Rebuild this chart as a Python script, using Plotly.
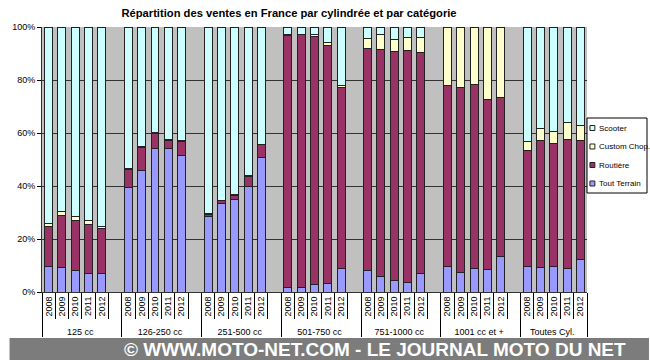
import plotly.graph_objects as go

groups = ["125 cc", "126-250 cc", "251-500 cc", "501-750 cc", "751-1000 cc", "1001 cc et +", "Toutes Cyl."]
years = ["2008", "2009", "2010", "2011", "2012"]
y_ticks = [0, 20, 40, 60, 80, 100]
y_tick_labels = ["0%", "20%", "40%", "60%", "80%", "100%"]

tout_terrain = [9.5, 9.2, 8.3, 6.8, 6.8,
                39.6, 46.0, 54.0, 54.0, 51.5,
                28.6, 33.4, 34.9, 39.7, 50.6,
                1.6, 1.6, 2.9, 3.1, 9.0,
                8.0, 5.9, 4.4, 3.4, 6.9,
                9.5, 7.3, 8.8, 8.4, 13.3,
                9.5, 9.2, 9.5, 9.0, 12.3]
routiere = [15.1, 19.7, 18.7, 18.8, 17.2,
            6.8, 8.6, 5.8, 3.2, 5.4,
            0.7, 1.1, 1.7, 4.0, 4.9,
            95.3, 95.5, 93.6, 90.0, 68.1,
            84.0, 85.8, 86.2, 87.6, 83.4,
            68.6, 69.7, 69.5, 64.1, 60.2,
            43.9, 48.1, 46.5, 48.5, 44.9]
custom = [1.2, 1.6, 1.4, 1.3, 0.9,
          0.3, 0.4, 0.5, 0.3, 0.4,
          0.2, 0.2, 0.2, 0.3, 0.2,
          0.1, 0.2, 0.5, 1.1, 0.9,
          3.6, 5.3, 4.5, 5.1, 5.9,
          21.9, 23.0, 21.7, 27.5, 26.5,
          3.4, 4.3, 4.4, 6.4, 5.7]
scooter = [74.2, 69.5, 71.6, 73.1, 75.1,
           53.3, 45.0, 39.7, 42.5, 42.7,
           70.5, 65.3, 63.2, 56.0, 44.3,
           3.0, 2.7, 3.0, 5.8, 22.0,
           4.4, 3.0, 4.9, 3.9, 3.8,
           0.0, 0.0, 0.0, 0.0, 0.0,
           43.2, 38.4, 39.6, 36.1, 37.1]

series = [("Tout Terrain", tout_terrain, "#9999FF"),
          ("Routière", routiere, "#993366"),
          ("Custom Chop.", custom, "#FFFFCC"),
          ("Scooter", scooter, "#CCFFFF")]

# build multicategory x with a blank slot after each group (except last)
xg, xy, idx = [], [], []
k = 0
for gi, g in enumerate(groups):
    for y in years:
        xg.append(g); xy.append(y); idx.append(k); k += 1
    if gi < len(groups) - 1:
        xg.append(g); xy.append(" "); idx.append(None)

fig = go.Figure()
for name, vals, col in series:
    yv = [vals[i] if i is not None else None for i in idx]
    fig.add_trace(go.Bar(x=[xg, xy], y=yv, name=name,
                         marker=dict(color=col, line=dict(color="#222222", width=1)),
                         showlegend=False))

W, H = 650, 360
L, R, T, B = 33, 63, 27, 68
pw, ph = W - L - R, H - T - B

def px(x):
    return (x - L) / pw

def py(y):
    return (H - B - y) / ph

shapes = []
annotations = []
# footer band
shapes.append(dict(type="rect", xref="paper", yref="paper", x0=px(0), x1=px(W), y0=py(H), y1=py(338),
                   fillcolor="#7c7c7c", line=dict(width=0), layer="below"))
annotations.append(dict(text="<b>© WWW.MOTO-NET.COM - LE JOURNAL MOTO DU NET</b>", xref="paper", yref="paper",
                        x=px(372), y=py(349.5), showarrow=False,
                        font=dict(family="Liberation Sans, Arial", size=19, color="white"),
                        xanchor="center", yanchor="middle"))
# legend box
lx0, lx1, ly0, ly1 = 587, 648, 118, 193
shapes.append(dict(type="rect", xref="paper", yref="paper", x0=px(lx0), x1=px(lx1), y0=py(ly1), y1=py(ly0),
                   fillcolor="white", line=dict(color="black", width=1)))
for i, (name, vals, col) in enumerate(reversed(series)):
    cy = 128 + i * 18.5
    shapes.append(dict(type="rect", xref="paper", yref="paper", x0=px(590), x1=px(595), y0=py(cy + 2.5), y1=py(cy - 2.5),
                       fillcolor=col, line=dict(color="#222222", width=1)))
    annotations.append(dict(text=name, xref="paper", yref="paper", x=px(597), y=py(cy), showarrow=False,
                            xanchor="left", yanchor="middle",
                            font=dict(family="Liberation Sans, Arial", size=8, color="black")))

fig.update_layout(
    width=W, height=H, margin=dict(l=L, r=R, t=T, b=B),
    barmode="stack", bargap=0.4,
    paper_bgcolor="white", plot_bgcolor="#C0C0C0",
    font=dict(family="Liberation Sans, Arial", size=9, color="black"),
    title=dict(text="<b>Répartition des ventes en France par cylindrée et par catégorie</b>", x=289 / W, y=1 - 13 / H,
               xanchor="center", yanchor="middle", font=dict(size=11.2, color="black")),
    shapes=shapes, annotations=annotations,
)
fig.update_yaxes(range=[0, 100], tickvals=y_ticks, ticktext=y_tick_labels, showgrid=True,
                 gridcolor="#333333", gridwidth=1, ticks="outside", ticklen=4, tickcolor="black",
                 showline=True, linecolor="#333333", zeroline=False, fixedrange=True)
fig.update_xaxes(type="multicategory", tickangle=-90, showdividers=True, dividercolor="black", dividerwidth=1,
                 ticks="outside", tickson="boundaries", ticklen=26, tickcolor="black",
                 showline=True, linecolor="#333333", fixedrange=True)

fig.write_html("out.html", config={"displayModeBar": False},
               post_script="document.body.style.margin='0';document.body.style.overflow='hidden';")
